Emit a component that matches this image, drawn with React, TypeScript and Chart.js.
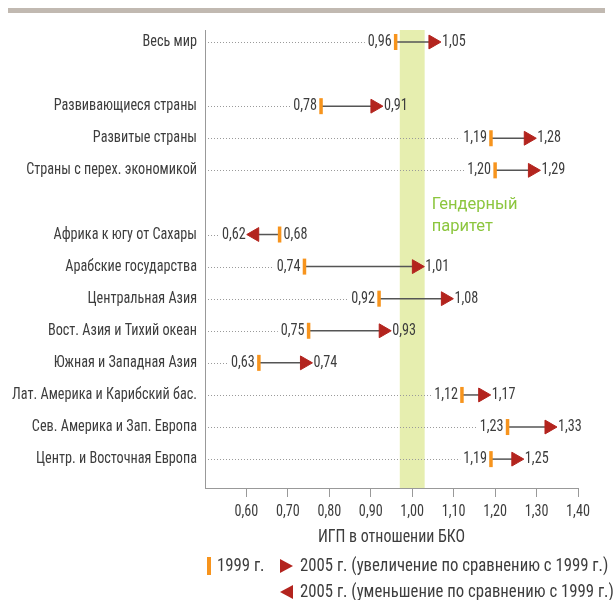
import React, { useEffect, useRef } from "react";
import { Chart, registerables } from "chart.js";
Chart.register(...registerables);

const categories = [
  "Весь мир",
  "",
  "Развивающиеся страны",
  "Развитые страны",
  "Страны с перех. экономикой",
  "",
  "Африка к югу от Сахары",
  "Арабские государства",
  "Центральная Азия",
  "Вост. Азия и Тихий океан",
  "Южная и Западная Азия",
  "Лат. Америка и Карибский бас.",
  "Сев. Америка и Зап. Европа",
  "Центр. и Восточная Европа",
];
const values1999: (number | null)[] = [0.96, null, 0.78, 1.19, 1.2, null, 0.68, 0.74, 0.92, 0.75, 0.63, 1.12, 1.23, 1.19];
const values2005: (number | null)[] = [1.05, null, 0.91, 1.28, 1.29, null, 0.62, 1.01, 1.08, 0.93, 0.74, 1.17, 1.33, 1.25];
const xTicks = [0.6, 0.7, 0.8, 0.9, 1.0, 1.1, 1.2, 1.3, 1.4];
const parityBand = [0.97, 1.03];
const parityLabel = ["Гендерный", "паритет"];
const xTitle = "ИГП в отношении БКО";
const legendLabels = [
  "1999 г.",
  "2005 г. (увеличение по сравнению с 1999 г.)",
  "2005 г. (уменьшение по сравнению с 1999 г.)",
];

const FONT_N = '"Liberation Sans Narrow", "Roboto Condensed", Roboto, sans-serif';
const FONT_R = 'Roboto, "Open Sans", sans-serif';
const TEXT = "#3d3d3d";
const ORANGE = "#f7941d";
const RED = "#b3241e";
const AXIS = "#999999";

const fmt = (v: number) => v.toFixed(2).replace(".", ",");

function txt(ctx: any, s: string, x: number, y: number, align: string, size: number, sx: number, color = TEXT, family = FONT_N) {
  ctx.save();
  ctx.font = `${size}px ${family}`;
  ctx.fillStyle = color;
  ctx.textAlign = align;
  ctx.textBaseline = "middle";
  ctx.translate(x, y);
  ctx.scale(sx, 1);
  ctx.fillText(s, 0, 0);
  const w = ctx.measureText(s).width * sx;
  ctx.restore();
  return w;
}

const LBL = 16.5;
const LSX = 0.86;

const drawPlugin = {
  id: "custom",
  beforeDatasetsDraw(chart: any) {
    const ctx = chart.ctx;
    const xs = chart.scales.x;
    const ys = chart.scales.y;
    const ca = chart.chartArea;
    ctx.save();
    // top rule
    ctx.fillStyle = "#c1b9b1";
    ctx.fillRect(8, 8, 597, 5);
    // parity band
    const bx0 = xs.getPixelForValue(parityBand[0]);
    const bx1 = xs.getPixelForValue(parityBand[1]);
    ctx.fillStyle = "#e6eeaf";
    ctx.fillRect(bx0, ca.top, bx1 - bx0, ca.bottom - ca.top);
    txt(ctx, parityLabel[0], bx1 + 7, 205, "left", 16.5, 1, "#8cc63e", FONT_R);
    txt(ctx, parityLabel[1], bx1 + 7, 227, "left", 16.5, 1, "#8cc63e", FONT_R);

    // x tick labels
    xTicks.forEach((v) => {
      txt(ctx, fmt(v), xs.getPixelForValue(v), 512, "center", LBL, LSX);
    });

    categories.forEach((cat, i) => {
      const yp = ys.getPixelForValue(i);
      if (cat) txt(ctx, cat, 197, yp, "right", LBL, LSX);
      const a = values1999[i];
      const b = values2005[i];
      if (a == null || b == null) return;
      const xa = xs.getPixelForValue(a);
      const xb = xs.getPixelForValue(b);
      const la = fmt(a);
      const lb = fmt(b);
      let leftStart: number;
      if (b >= a) {
        const w = txt(ctx, la, xa - 4, yp, "right", LBL, LSX);
        txt(ctx, lb, xb + 9, yp, "left", LBL, LSX);
        leftStart = xa - 4 - w;
      } else {
        txt(ctx, la, xa + 4, yp, "left", LBL, LSX);
        const w = txt(ctx, lb, xb - 9, yp, "right", LBL, LSX);
        leftStart = xb - 9 - w;
      }
      // dotted leader
      ctx.strokeStyle = "#9a9a9a";
      ctx.lineWidth = 1;
      ctx.setLineDash([1, 2]);
      ctx.beginPath();
      ctx.moveTo(ca.left + 3, Math.round(yp) + 0.5);
      ctx.lineTo(leftStart - 3, Math.round(yp) + 0.5);
      ctx.stroke();
      ctx.setLineDash([]);
      // connector
      ctx.strokeStyle = "#555555";
      ctx.lineWidth = 1.5;
      ctx.beginPath();
      ctx.moveTo(xa, yp);
      ctx.lineTo(xb, yp);
      ctx.stroke();
    });
    ctx.restore();
  },
  afterDraw(chart: any) {
    const ctx = chart.ctx;
    const ca = chart.chartArea;
    ctx.save();
    txt(ctx, xTitle, (ca.left + ca.right) / 2, 538, "center", 17.5, 0.91);
    // legend
    ctx.fillStyle = ORANGE;
    ctx.fillRect(207, 557, 4, 18);
    txt(ctx, legendLabels[0], 217, 566, "left", 18, 0.93);
    ctx.fillStyle = RED;
    ctx.beginPath();
    ctx.moveTo(280, 559);
    ctx.lineTo(293, 566);
    ctx.lineTo(280, 573);
    ctx.closePath();
    ctx.fill();
    txt(ctx, legendLabels[1], 300, 566, "left", 18, 0.93);
    ctx.fillStyle = RED;
    ctx.beginPath();
    ctx.moveTo(293, 585);
    ctx.lineTo(280, 592);
    ctx.lineTo(293, 599);
    ctx.closePath();
    ctx.fill();
    txt(ctx, legendLabels[2], 300, 592, "left", 18, 0.93);
    ctx.restore();
  },
};

export default function App() {
  const ref = useRef<HTMLCanvasElement | null>(null);
  useEffect(() => {
    if (!ref.current) return;
    const pts1999: any[] = [];
    const pts2005: any[] = [];
    const rot2005: number[] = [];
    categories.forEach((_, i) => {
      const a = values1999[i];
      const b = values2005[i];
      if (a != null) pts1999.push({ x: a, y: i });
      if (b != null) {
        pts2005.push({ x: b, y: i });
        rot2005.push(a != null && b < a ? -90 : 90);
      }
    });
    const chart = new Chart(ref.current, {
      type: "scatter",
      data: {
        datasets: [
          {
            label: "1999",
            data: pts1999,
            pointStyle: "line",
            rotation: 90,
            radius: 8,
            borderWidth: 3.5,
            borderColor: ORANGE,
            backgroundColor: ORANGE,
          },
          {
            label: "2005",
            data: pts2005,
            pointStyle: "triangle",
            rotation: rot2005,
            radius: 8,
            borderWidth: 1,
            borderColor: RED,
            backgroundColor: RED,
          },
        ],
      },
      options: {
        responsive: false,
        animation: false,
        events: [],
        layout: { padding: { top: 30, right: 36, left: 0, bottom: 0 } },
        plugins: { legend: { display: false }, tooltip: { enabled: false } },
        scales: {
          x: {
            type: "linear",
            min: 0.5,
            max: 1.4,
            afterBuildTicks: (s: any) => {
              s.ticks = xTicks.map((v) => ({ value: v }));
            },
            afterFit: (s: any) => {
              s.height = 112;
            },
            ticks: { display: false },
            grid: {
              display: true,
              drawOnChartArea: false,
              drawTicks: true,
              tickLength: 9,
              color: AXIS,
            },
            border: { display: true, color: AXIS, width: 1 },
          },
          y: {
            type: "linear",
            reverse: true,
            min: -0.374,
            max: 13.9,
            afterFit: (s: any) => {
              s.width = 205;
            },
            ticks: { display: false },
            grid: { display: false },
            border: { display: true, color: AXIS, width: 1 },
          },
        },
      },
      plugins: [drawPlugin],
    });
    return () => chart.destroy();
  }, []);
  return (
    <div style={{ position: "fixed", left: 0, top: 0, width: 614, height: 600, background: "#fff" }}>
      <canvas ref={ref} width={614} height={600} style={{ display: "block", width: 614, height: 600 }} />
    </div>
  );
}
